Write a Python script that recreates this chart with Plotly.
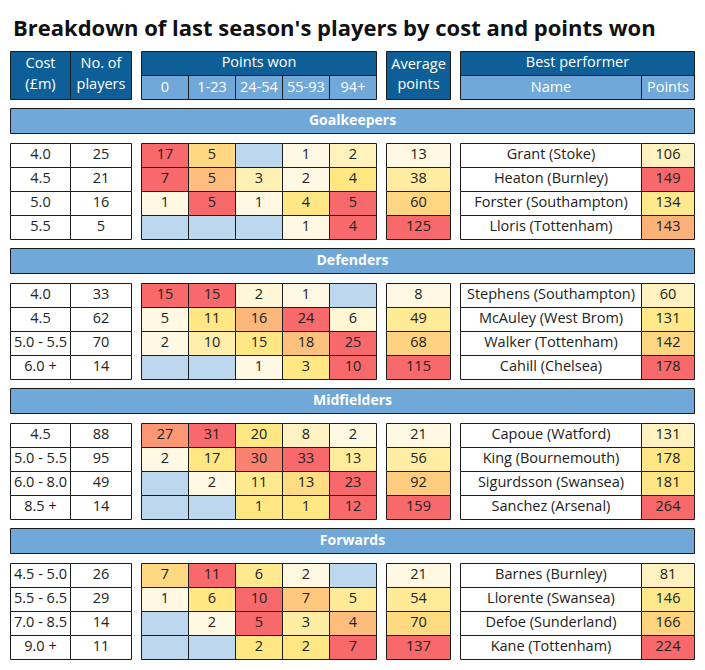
import statistics
import plotly.graph_objects as go
from plotly.colors import sample_colorscale

# ---------------- data ----------------
TITLE = "Breakdown of last season's players by cost and points won"
SECTIONS = ["Goalkeepers", "Defenders", "Midfielders", "Forwards"]
POINT_BANDS = ["0", "1-23", "24-54", "55-93", "94+"]

gk_cost = ["4.0", "4.5", "5.0", "5.5"]
gk_players = [25, 21, 16, 5]
gk_points_won = [[17, 5, None, 1, 2], [7, 5, 3, 2, 4], [1, 5, 1, 4, 5], [None, None, None, 1, 4]]
gk_avg = [13, 38, 60, 125]
gk_best = ["Grant (Stoke)", "Heaton (Burnley)", "Forster (Southampton)", "Lloris (Tottenham)"]
gk_best_pts = [106, 149, 134, 143]

df_cost = ["4.0", "4.5", "5.0 - 5.5", "6.0 +"]
df_players = [33, 62, 70, 14]
df_points_won = [[15, 15, 2, 1, None], [5, 11, 16, 24, 6], [2, 10, 15, 18, 25], [None, None, 1, 3, 10]]
df_avg = [8, 49, 68, 115]
df_best = ["Stephens (Southampton)", "McAuley (West Brom)", "Walker (Tottenham)", "Cahill (Chelsea)"]
df_best_pts = [60, 131, 142, 178]

mf_cost = ["4.5", "5.0 - 5.5", "6.0 - 8.0", "8.5 +"]
mf_players = [88, 95, 49, 14]
mf_points_won = [[27, 31, 20, 8, 2], [2, 17, 30, 33, 13], [None, 2, 11, 13, 23], [None, None, 1, 1, 12]]
mf_avg = [21, 56, 92, 159]
mf_best = ["Capoue (Watford)", "King (Bournemouth)", "Sigurdsson (Swansea)", "Sanchez (Arsenal)"]
mf_best_pts = [131, 178, 181, 264]

fw_cost = ["4.5 - 5.0", "5.5 - 6.5", "7.0 - 8.5", "9.0 +"]
fw_players = [26, 29, 14, 11]
fw_points_won = [[7, 11, 6, 2, None], [1, 6, 10, 7, 5], [None, 2, 5, 3, 4], [None, None, 2, 2, 7]]
fw_avg = [21, 54, 70, 137]
fw_best = ["Barnes (Burnley)", "Llorente (Swansea)", "Defoe (Sunderland)", "Kane (Tottenham)"]
fw_best_pts = [81, 146, 166, 224]

tables = [
    (gk_cost, gk_players, gk_points_won, gk_avg, gk_best, gk_best_pts),
    (df_cost, df_players, df_points_won, df_avg, df_best, df_best_pts),
    (mf_cost, mf_players, mf_points_won, mf_avg, mf_best, mf_best_pts),
    (fw_cost, fw_players, fw_points_won, fw_avg, fw_best, fw_best_pts),
]

# ---------------- style / layout ----------------
W, H = 705, 670
DARK = "#0e5f98"
LIGHT = "#6fa8d9"
EMPTY = "#bdd7ee"
BORDER = "#1c1c1c"
TXT = "#222222"
FONT = "Open Sans"
BODY_SIZE = 14.5
SCALE = [[0.0, "#fff9e3"], [0.5, "#ffe784"], [1.0, "#f8696b"]]
SCALE_PTS = [[0.0, "#fff2c0"], [0.5, "#ffe784"], [1.0, "#f8696b"]]

X_COST = (10.5, 70.5)
X_NUM = (70.5, 131.5)
X_PW = [141.5, 188.5, 235.5, 282.5, 329.5, 376.5]
X_AVG = (386.5, 450.5)
X_NAME = (460.5, 641.5)
X_PTS = (641.5, 694.5)
X_ALL = (10.5, 694.5)

HDR_TOP, HDR_MID, HDR_BOT = 51.5, 75.5, 99.5
BAND_TOP0 = 108.5
BAND_H = 25
ROW_TOP0 = 143.5
ROW_H = 24
SECTION_STEP = 140


def scale_pos(v, vals):
    vals = [x for x in vals if x is not None]
    lo, hi, med = min(vals), max(vals), statistics.median(vals)
    if v >= med:
        return 0.5 + (0.5 * (v - med) / (hi - med) if hi > med else 0.0)
    return 0.5 * (v - lo) / (med - lo)


def colour(v, vals, scale=SCALE):
    return sample_colorscale(scale, [scale_pos(v, vals)])[0]


shapes = []
texts = {"x": [], "y": [], "t": [], "c": [], "s": []}


def rect(x0, x1, y0, y1, fill):
    shapes.append(dict(type="rect", xref="x", yref="y", x0=x0, x1=x1, y0=y0, y1=y1,
                       fillcolor=fill, line=dict(color=BORDER, width=1), layer="below"))


def label(x, y, t, color=TXT, size=BODY_SIZE, bold=False):
    texts["x"].append(x)
    texts["y"].append(y)
    texts["t"].append(f"<b>{t}</b>" if bold else t)
    texts["c"].append(color)
    texts["s"].append(size)


def mid(a):
    return (a[0] + a[1]) / 2


# header
rect(*X_COST, HDR_TOP, HDR_BOT, DARK)
rect(*X_NUM, HDR_TOP, HDR_BOT, DARK)
label(mid(X_COST), 64.5, "Cost", "white")
label(mid(X_COST), 85.5, "(£m)", "white")
label(mid(X_NUM), 64.5, "No. of", "white")
label(mid(X_NUM), 85.5, "players", "white")
rect(X_PW[0], X_PW[-1], HDR_TOP, HDR_MID, DARK)
label((X_PW[0] + X_PW[-1]) / 2, 63.5, "Points won", "white")
for i, b in enumerate(POINT_BANDS):
    rect(X_PW[i], X_PW[i + 1], HDR_MID, HDR_BOT, LIGHT)
    label((X_PW[i] + X_PW[i + 1]) / 2, 88, b, "white")
rect(*X_AVG, HDR_TOP, HDR_BOT, DARK)
label(mid(X_AVG), 65, "Average", "white")
label(mid(X_AVG), 85.5, "points", "white")
rect(X_NAME[0], X_PTS[1], HDR_TOP, HDR_MID, DARK)
label((X_NAME[0] + X_PTS[1]) / 2, 63.5, "Best performer", "white")
rect(*X_NAME, HDR_MID, HDR_BOT, LIGHT)
label(mid(X_NAME), 88, "Name", "white")
rect(*X_PTS, HDR_MID, HDR_BOT, LIGHT)
label(mid(X_PTS), 88, "Points", "white")

# sections
for s, (name, tbl) in enumerate(zip(SECTIONS, tables)):
    cost, players, pw, avg, best, best_pts = tbl
    bt = BAND_TOP0 + s * SECTION_STEP
    rect(*X_ALL, bt, bt + BAND_H, LIGHT)
    label(mid(X_ALL), bt + BAND_H / 2, name, "white", 14, True)
    for r in range(len(cost)):
        y0 = ROW_TOP0 + s * SECTION_STEP + r * ROW_H
        y1 = y0 + ROW_H
        yc = (y0 + y1) / 2
        rect(*X_COST, y0, y1, "white")
        label(mid(X_COST), yc, cost[r])
        rect(*X_NUM, y0, y1, "white")
        label(mid(X_NUM), yc, str(players[r]))
        for c, v in enumerate(pw[r]):
            if v is None:
                rect(X_PW[c], X_PW[c + 1], y0, y1, EMPTY)
            else:
                rect(X_PW[c], X_PW[c + 1], y0, y1, colour(v, pw[r]))
                label((X_PW[c] + X_PW[c + 1]) / 2, yc, str(v))
        rect(*X_AVG, y0, y1, colour(avg[r], avg))
        label(mid(X_AVG), yc, str(avg[r]))
        rect(*X_NAME, y0, y1, "white")
        label(mid(X_NAME), yc, best[r])
        rect(*X_PTS, y0, y1, colour(best_pts[r], best_pts, SCALE_PTS))
        label(mid(X_PTS), yc, str(best_pts[r]))

fig = go.Figure()
fig.add_trace(go.Scatter(
    x=texts["x"], y=texts["y"], text=texts["t"], mode="text",
    textposition="middle center",
    textfont=dict(family=FONT, size=texts["s"], color=texts["c"]),
    hoverinfo="skip", cliponaxis=False, showlegend=False,
))

fig.add_annotation(x=11, y=27, xref="x", yref="y", text=f"<b>{TITLE}</b>",
                   showarrow=False, xanchor="left", yanchor="middle",
                   font=dict(family="Open Sans", size=22, color="#111111"))

fig.update_layout(
    width=W, height=H, margin=dict(l=0, r=0, t=0, b=0),
    paper_bgcolor="white", plot_bgcolor="white",
    shapes=shapes,
    xaxis=dict(range=[0, W], visible=False, fixedrange=True),
    yaxis=dict(range=[H, 0], visible=False, fixedrange=True),
)

fig.write_html("out.html", config={"displayModeBar": False},
               post_script="document.body.style.margin='0';")
